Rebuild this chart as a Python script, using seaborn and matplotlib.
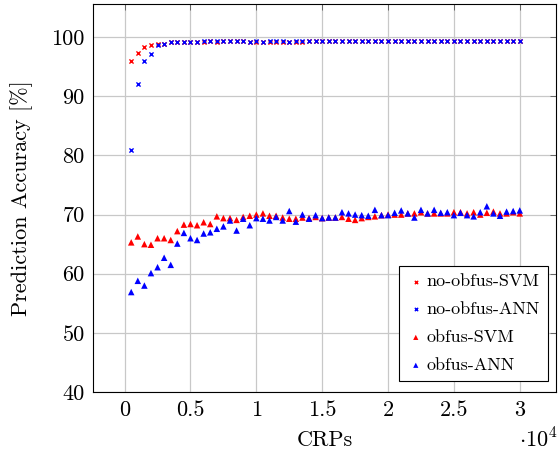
import numpy as np
import pandas as pd
import matplotlib
matplotlib.use("Agg")
import matplotlib.pyplot as plt
import seaborn as sns
from matplotlib.ticker import FuncFormatter

CRPS = list(range(500, 30001, 500))

NO_OBFUS_SVM = [96.0, 97.4, 98.4, 98.7, 98.8, 98.9, 99.1, 99.1, 99.1, 99.1,
                99.2, 99.2, 99.3, 99.2, 99.3, 99.4, 99.4, 99.3, 99.2, 99.1,
                99.1, 99.2, 99.2, 99.2, 99.2, 99.1, 99.2, 99.3, 99.3, 99.3,
                99.4, 99.4, 99.3, 99.4, 99.3, 99.3, 99.4, 99.3, 99.4, 99.3,
                99.3, 99.4, 99.3, 99.3, 99.3, 99.3, 99.4, 99.3, 99.4, 99.4,
                99.3, 99.4, 99.4, 99.3, 99.4, 99.4, 99.3, 99.4, 99.4, 99.4]
NO_OBFUS_ANN = [81.0, 92.0, 96.0, 97.2, 98.7, 98.9, 99.1, 99.1, 99.1, 99.2,
                99.2, 99.3, 99.3, 99.3, 99.3, 99.4, 99.4, 99.3, 99.2, 99.3,
                99.2, 99.3, 99.3, 99.3, 99.2, 99.3, 99.3, 99.3, 99.3, 99.4,
                99.4, 99.3, 99.4, 99.3, 99.4, 99.3, 99.3, 99.4, 99.4, 99.4,
                99.3, 99.4, 99.3, 99.3, 99.4, 99.3, 99.4, 99.4, 99.3, 99.3,
                99.4, 99.4, 99.4, 99.3, 99.4, 99.4, 99.3, 99.4, 99.4, 99.4]
OBFUS_SVM = [65.3, 66.3, 65.0, 64.9, 66.0, 66.0, 65.7, 67.2, 68.3, 68.4,
             68.2, 68.7, 68.4, 69.7, 69.4, 69.4, 69.1, 69.6, 69.8, 70.0,
             70.2, 69.8, 69.8, 69.5, 69.3, 69.3, 69.5, 69.4, 69.6, 69.4,
             69.5, 69.5, 69.6, 69.3, 69.1, 69.4, 69.6, 69.7, 69.9, 70.0,
             70.0, 70.0, 70.2, 70.2, 70.4, 70.2, 70.2, 70.2, 70.2, 70.4,
             70.4, 70.2, 70.4, 70.0, 70.3, 70.5, 70.2, 70.2, 70.4, 70.2]
OBFUS_ANN = [56.9, 58.8, 58.0, 60.1, 61.1, 62.7, 61.5, 65.1, 66.9, 66.0,
             65.7, 66.8, 67.0, 67.6, 68.0, 69.0, 67.3, 69.3, 68.2, 69.4,
             69.3, 69.0, 69.6, 69.0, 70.6, 68.8, 70.0, 69.3, 69.9, 69.4,
             69.5, 69.5, 70.4, 70.2, 70.0, 69.9, 69.8, 70.8, 69.9, 69.9,
             70.3, 70.7, 70.2, 69.5, 70.8, 70.2, 70.8, 70.3, 70.4, 69.9,
             70.3, 69.9, 69.7, 70.4, 71.4, 70.2, 69.8, 70.5, 70.6, 70.7]

SERIES = {
    "no-obfus-SVM": NO_OBFUS_SVM,
    "no-obfus-ANN": NO_OBFUS_ANN,
    "obfus-SVM": OBFUS_SVM,
    "obfus-ANN": OBFUS_ANN,
}
STYLE = {
    "no-obfus-SVM": dict(color="red", marker="x", s=9),
    "no-obfus-ANN": dict(color="blue", marker="x", s=9),
    "obfus-SVM": dict(color="red", marker="^", s=22),
    "obfus-ANN": dict(color="blue", marker="^", s=22),
}

sns.set_theme(style="white")
plt.rcParams["font.family"] = ["cmr10", "DejaVu Serif"]
plt.rcParams["mathtext.fontset"] = "cm"
plt.rcParams["axes.unicode_minus"] = False
plt.rcParams["text.color"] = "black"
plt.rcParams["axes.labelcolor"] = "black"
plt.rcParams["xtick.color"] = "black"
plt.rcParams["ytick.color"] = "black"

fig = plt.figure(figsize=(5.59, 4.62), dpi=100)
ax = fig.add_axes([0.1664, 0.1515, 0.8282, 0.8398])

for name, vals in SERIES.items():
    df = pd.DataFrame({"crps": CRPS, "acc": vals})
    st = STYLE[name]
    sns.scatterplot(data=df, x="crps", y="acc", ax=ax, label=name,
                    color=st["color"], marker=st["marker"], s=st["s"],
                    linewidth=1.0 if st["marker"] == "x" else 0,
                    edgecolor=st["color"] if st["marker"] == "x" else "none",
                    zorder=3)

ax.set_xlim(-2400, 32750)
ax.set_ylim(40, 105.6)
ax.set_xticks([0, 5000, 10000, 15000, 20000, 25000, 30000])
ax.xaxis.set_major_formatter(FuncFormatter(lambda v, p: f"{v / 1e4:g}"))
ax.set_yticks(range(40, 101, 10))
ax.grid(True, color="#c8c8c8", linewidth=0.9, zorder=0)
ax.set_axisbelow(True)
for sp in ax.spines.values():
    sp.set_color("black")
    sp.set_linewidth(0.8)
ax.tick_params(direction="in", length=4, width=0.6, color="#555555",
               labelcolor="black", top=True, right=True, labelsize=16, pad=6)

ax.set_xlabel("CRPs", fontsize=16, labelpad=8)
ax.set_ylabel("Prediction Accuracy [%]", fontsize=16, labelpad=13)
fig.text(0.997, 0.022, r"$\cdot 10^4$", fontsize=16, ha="right", va="bottom")

leg = ax.legend(loc="lower right", bbox_to_anchor=(0.983, 0.028), fontsize=13,
                frameon=True, fancybox=False, framealpha=1, edgecolor="black",
                borderpad=0.45, handletextpad=0.1, labelspacing=0.68,
                handlelength=1.0, borderaxespad=0, markerscale=0.8)
leg.get_frame().set_linewidth(0.8)

fig.savefig("out.png", dpi=100)
